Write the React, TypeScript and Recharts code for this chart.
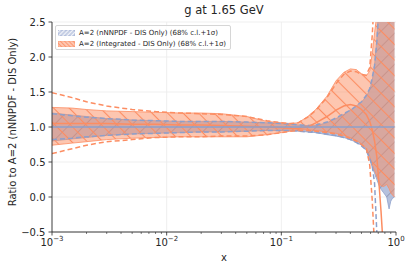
import { Area, CartesianGrid, ComposedChart, Line, XAxis, YAxis } from 'recharts';

const BLUE = '#8da0cb';
const ORANGE = '#fc8d62';
const INK = '#262626';
const FONT = '"DejaVu Sans", Verdana, sans-serif';

// x grid (log scale)
const X = [
  0.001, 0.0015, 0.002, 0.003, 0.005, 0.008, 0.013, 0.02, 0.03, 0.05, 0.075, 0.1, 0.12, 0.14, 0.17, 0.2, 0.25, 0.3,
  0.35, 0.4, 0.45, 0.5, 0.55, 0.59, 0.62, 0.65, 0.68, 0.71, 0.74, 0.78, 0.83, 0.87, 0.9, 0.93, 0.97,
];

// nNNPDF - DIS only, 68% c.l. band
const BLUE_LO = [
  0.8, 0.83, 0.85, 0.88, 0.9, 0.91, 0.92, 0.93, 0.93, 0.94, 0.95, 0.95, 0.95, 0.94, 0.93, 0.92, 0.89, 0.87, 0.85, 0.82,
  0.78, 0.74, 0.67, 0.54, 0.43, 0.34, 0.25, 0.17, 0.11, 0.06, 0.0, -0.17, -0.06, -0.02, 0.0,
];
const BLUE_HI = [
  1.2, 1.17, 1.15, 1.12, 1.1, 1.09, 1.08, 1.08, 1.08, 1.07, 1.06, 1.05, 1.04, 1.03, 1.02, 1.02, 1.06, 1.12, 1.18, 1.24,
  1.3, 1.36, 1.43, 1.53, 1.66, 1.88, 2.25, 2.8, 3.3, 3.5, 3.5, 3.5, 3.5, 3.5, 3.5,
];
// nNNPDF - DIS only, 1 sigma
const BLUE_SIG_LO = [
  0.82, 0.84, 0.86, 0.88, 0.9, 0.91, 0.92, 0.93, 0.93, 0.94, 0.95, 0.95, 0.95, 0.94, 0.93, 0.92, 0.9, 0.88, 0.85, 0.82,
  0.78, 0.73, 0.67, 0.55, 0.45, 0.2, -0.5, -1.5, null, null, null, null, null, null, null,
];
const BLUE_SIG_HI = [
  1.19, 1.16, 1.14, 1.12, 1.1, 1.09, 1.08, 1.08, 1.08, 1.07, 1.06, 1.05, 1.04, 1.03, 1.02, 1.03, 1.07, 1.13, 1.19, 1.24,
  1.3, 1.36, 1.45, 1.55, 1.7, 1.88, 2.2, 2.7, null, null, null, null, null, null, null,
];
const BLUE_MID = X.map(() => 1.0);

// Integrated - DIS only, 68% c.l. band
const ORANGE_LO = [
  0.74, 0.77, 0.79, 0.82, 0.84, 0.85, 0.86, 0.86, 0.86, 0.86, 0.89, 0.92, 0.94, 0.96, 0.96, 0.95, 0.93, 0.91, 0.88,
  0.85, 0.81, 0.76, 0.69, 0.58, 0.47, 0.38, 0.3, 0.22, 0.16, 0.15, 0.18, 0.12, 0.06, 0.03, 0.0,
];
const ORANGE_HI = [
  1.28, 1.27, 1.25, 1.23, 1.22, 1.21, 1.2, 1.2, 1.19, 1.15, 1.08, 1.06, 1.05, 1.06, 1.15, 1.25, 1.44, 1.66, 1.78, 1.83,
  1.82, 1.76, 1.73, 1.8, 2.05, 2.35, 2.6, 3.2, 3.5, 3.5, 3.5, 3.5, 3.5, 3.5, 3.5,
];
// Integrated - DIS only, 1 sigma
const ORANGE_SIG_LO = [
  0.62, 0.69, 0.74, 0.79, 0.82, 0.85, 0.86, 0.86, 0.87, 0.87, 0.89, 0.92, 0.94, 0.95, 0.95, 0.94, 0.92, 0.9, 0.87, 0.84,
  0.8, 0.75, 0.7, 0.46, -0.04, -0.7, -1.5, null, null, null, null, null, null, null, null,
];
const ORANGE_SIG_HI = [
  1.49, 1.42, 1.36, 1.3, 1.25, 1.22, 1.2, 1.19, 1.18, 1.15, 1.09, 1.06, 1.05, 1.06, 1.14, 1.24, 1.42, 1.62, 1.75, 1.8,
  1.79, 1.75, 1.74, 1.85, 2.3, 2.9, null, null, null, null, null, null, null, null, null,
];
const ORANGE_MID = [
  1.05, 1.05, 1.05, 1.05, 1.04, 1.04, 1.03, 1.03, 1.02, 1.01, 1.0, 0.99, 0.98, 0.98, 1.0, 1.06, 1.15, 1.24, 1.3, 1.32,
  1.3, 1.25, 1.18, 1.08, 0.96, 0.8, 0.58, 0.2, -0.2, -0.8, null, null, null, null, null,
];

const Y_TICKS = [-0.5, 0, 0.5, 1, 1.5, 2, 2.5];
const X_MAJOR = [0.001, 0.01, 0.1, 1];
const X_MINOR = [0.001, 0.01, 0.1].flatMap((d) => [2, 3, 4, 5, 6, 7, 8, 9].map((m) => +(m * d).toPrecision(3)));
const X_GRID = [0.01, 0.1];

const LEGEND = [
  { label: 'A=2 (nNNPDF - DIS Only) (68% c.l.+1σ)', color: BLUE, hatch: 'lgB' },
  { label: 'A=2 (Integrated - DIS Only) (68% c.l.+1σ)', color: ORANGE, hatch: 'lgO' },
];

const rows = X.map((x, i) => ({
  x,
  blueBand: [BLUE_LO[i], BLUE_HI[i]],
  orangeBand: [ORANGE_LO[i], ORANGE_HI[i]],
  blueSigLo: BLUE_SIG_LO[i],
  blueSigHi: BLUE_SIG_HI[i],
  blueMid: BLUE_MID[i],
  orangeSigLo: ORANGE_SIG_LO[i],
  orangeSigHi: ORANGE_SIG_HI[i],
  orangeMid: ORANGE_MID[i],
}));

const minus = (s: string) => s.replace('-', '\u2212');

function XTick(props: any) {
  const { x, y, payload } = props;
  const v = payload.value as number;
  const e = Math.round(Math.log10(v));
  const major = Math.abs(Math.log10(v) - e) < 1e-6;
  if (!major) return <line x1={x} x2={x} y1={y} y2={y + 2} stroke={INK} strokeWidth={0.6} />;
  return (
    <g>
      <line x1={x} x2={x} y1={y} y2={y + 3.5} stroke={INK} strokeWidth={0.8} />
      <text x={x} y={y + 13.5} textAnchor="middle" fontSize={10} fontFamily={FONT} fill={INK}>
        10
        <tspan fontSize={7} dy={-4.5}>
          {minus(String(e))}
        </tspan>
      </text>
    </g>
  );
}

function Hatch({ id, angle, color, width, size, opacity = 1 }: { id: string; angle: number; color: string; width: number; size: number; opacity?: number }) {
  return (
    <pattern id={id} patternUnits="userSpaceOnUse" width={size} height={size} patternTransform={`rotate(${angle})`}>
      <line x1={size / 2} x2={size / 2} y1={0} y2={size} stroke={color} strokeWidth={width} strokeOpacity={opacity} />
    </pattern>
  );
}

// vertical grid only at the major decades, placed through the x scale when available
function gridX(p: any) {
  const sc = p?.xAxis?.scale;
  if (typeof sc === 'function') return X_GRID.map((v) => sc(v));
  if (sc && typeof sc.map === 'function') return X_GRID.map((v) => sc.map(v));
  const o = p.offset;
  return X_GRID.map((v) => o.left + (o.width * (Math.log10(v) + 3)) / 3);
}

export default function App() {
  return (
    <div style={{ position: 'absolute', left: 0, top: 0, width: 412, height: 269, fontFamily: FONT, color: INK }}>
      <ComposedChart width={412} height={269} data={rows} margin={{ top: 22, right: 16, bottom: 0, left: 0 }}>
        <defs>
          <Hatch id="hatchB" angle={45} color="#6f6a85" width={0.8} size={11} opacity={0.55} />
          <Hatch id="hatchO" angle={-45} color={ORANGE} width={1.1} size={11} />
        </defs>
        <CartesianGrid stroke="#ebebeb" strokeWidth={0.8} verticalCoordinatesGenerator={gridX} />
        <XAxis
          dataKey="x"
          type="number"
          scale="log"
          domain={[0.001, 1]}
          allowDataOverflow
          ticks={[...X_MAJOR, ...X_MINOR]}
          interval={0}
          tick={<XTick />}
          tickLine={false}
          tickSize={0}
          tickMargin={0}
          height={37}
          axisLine={{ stroke: INK, strokeWidth: 0.9 }}
        />
        <YAxis
          type="number"
          domain={[-0.5, 2.5]}
          allowDataOverflow
          ticks={Y_TICKS}
          interval={0}
          width={52}
          tickSize={3.5}
          tickMargin={3}
          tickFormatter={(v: number) => minus(v.toFixed(1))}
          tick={{ fontSize: 10, fontFamily: FONT, fill: INK }}
          tickLine={{ stroke: INK, strokeWidth: 0.8 }}
          axisLine={{ stroke: INK, strokeWidth: 0.9 }}
        />

        <Area dataKey="blueBand" type="linear" fill={BLUE} fillOpacity={0.65} stroke={BLUE} strokeWidth={0.8} isAnimationActive={false} dot={false} activeDot={false} />
        <Area dataKey="blueBand" type="linear" fill="url(#hatchB)" fillOpacity={1} stroke="none" isAnimationActive={false} dot={false} activeDot={false} />
        <Area dataKey="orangeBand" type="linear" fill={ORANGE} fillOpacity={0.5} stroke={ORANGE} strokeWidth={0.8} isAnimationActive={false} dot={false} activeDot={false} />
        <Area dataKey="orangeBand" type="linear" fill="url(#hatchO)" fillOpacity={1} stroke="none" isAnimationActive={false} dot={false} activeDot={false} />

        <Line dataKey="blueSigLo" type="linear" stroke={BLUE} strokeWidth={1.5} strokeDasharray="5 3" dot={false} activeDot={false} isAnimationActive={false} />
        <Line dataKey="blueSigHi" type="linear" stroke={BLUE} strokeWidth={1.5} strokeDasharray="5 3" dot={false} activeDot={false} isAnimationActive={false} />
        <Line dataKey="orangeSigLo" type="linear" stroke={ORANGE} strokeWidth={1.5} strokeDasharray="5 3" dot={false} activeDot={false} isAnimationActive={false} />
        <Line dataKey="orangeSigHi" type="linear" stroke={ORANGE} strokeWidth={1.5} strokeDasharray="5 3" dot={false} activeDot={false} isAnimationActive={false} />
        <Line dataKey="orangeMid" type="linear" stroke={ORANGE} strokeWidth={1.5} dot={false} activeDot={false} isAnimationActive={false} />
        <Line dataKey="blueMid" type="linear" stroke={BLUE} strokeWidth={1.5} dot={false} activeDot={false} isAnimationActive={false} />
      </ComposedChart>

      <div style={{ position: 'absolute', left: 0, width: 448, top: 3, textAlign: 'center', fontSize: 11.5 }}>g at 1.65 GeV</div>
      <div
        style={{
          position: 'absolute',
          left: 12,
          top: 122,
          transform: 'translate(-50%, -50%) rotate(-90deg)',
          whiteSpace: 'nowrap',
          fontSize: 10,
        }}
      >
        Ratio to A=2 (nNNPDF - DIS Only)
      </div>
      <div style={{ position: 'absolute', left: 52, width: 344, top: 252, textAlign: 'center', fontSize: 10 }}>x</div>

      <div
        style={{
          position: 'absolute',
          left: 55,
          top: 25,
          width: 176,
          height: 25,
          border: '1px solid #d6d6d6',
          borderRadius: 2,
          background: 'rgba(255,255,255,0.8)',
          boxSizing: 'border-box',
          padding: '2px 0 0 2px',
        }}
      >
        {LEGEND.map((d) => (
          <div key={d.label} style={{ display: 'flex', alignItems: 'center', height: 10.5 }}>
            <svg width={17} height={6} style={{ marginRight: 4 }}>
              <defs>
                <Hatch id={d.hatch} angle={d.color === BLUE ? 45 : -45} color={d.color === BLUE ? '#ffffff' : ORANGE} width={0.8} size={3} />
              </defs>
              <rect x={0} y={0} width={17} height={6} fill={d.color} fillOpacity={0.5} stroke={d.color} strokeWidth={0.6} />
              <rect x={0} y={0} width={17} height={6} fill={`url(#${d.hatch})`} />
            </svg>
            <span style={{ fontSize: 7, whiteSpace: 'nowrap' }}>{d.label}</span>
          </div>
        ))}
      </div>
    </div>
  );
}
